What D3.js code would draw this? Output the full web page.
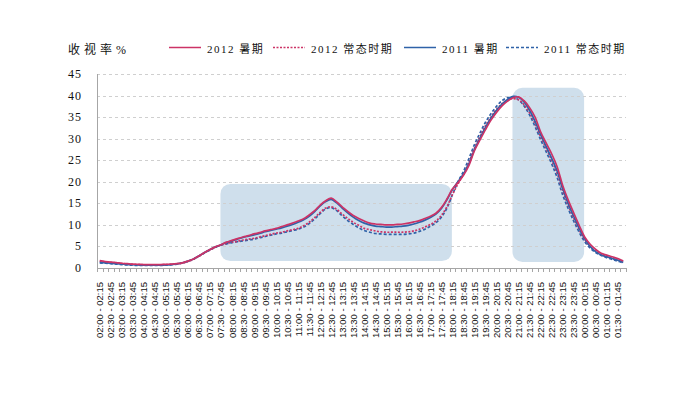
<!DOCTYPE html>
<html lang="zh">
  <head>
    <meta charset='utf-8'>
    <script type="text/javascript" src="https://cdn.jsdelivr.net/npm/d3@7"></script>
    <title>收视率</title>
    <style>
      body { margin: 0; background: white; }
    </style>
  </head>
  <body>
    <div id="chart"></div>
    <script type="text/javascript">
      //Categories: quarter hours from 02:00 to 01:45 next day
      var categories = [];
      for (var k = 0; k < 96; k++) {
        var a = (120 + k * 15) % 1440, b = (a + 15) % 1440;
        var f = function(m){ return d3.format("02")(Math.floor(m / 60)) + ":" + d3.format("02")(m % 60); };
        categories.push(f(a) + " - " + f(b));
      }
      var yTicks = [0, 5, 10, 15, 20, 25, 30, 35, 40, 45];
      var seriesNames = ["2012 暑期", "2012 常态时期", "2011 暑期", "2011 常态时期"];

      //2012 summer
      var summer2012 = [1.7,1.5,1.35,1.25,1.1,1.0,0.9,0.85,0.8,0.8,0.8,0.8,
        0.85,0.9,1.0,1.2,1.6,2.1,2.8,3.6,4.3,4.9,5.4,6.0,
        6.4,6.8,7.2,7.5,7.9,8.2,8.6,8.9,9.2,9.6,10.0,10.4,
        10.9,11.4,12.3,13.3,14.6,15.6,16.2,15.3,14.2,13.1,12.2,11.5,
        10.9,10.4,10.2,10.1,10.0,10.0,10.1,10.2,10.4,10.7,11.0,11.5,
        12.0,12.7,14.0,16.0,18.3,19.8,21.5,23.8,27.2,29.7,32.1,34.3,
        36.1,37.6,38.7,39.5,39.7,38.8,37.2,35.0,31.6,29.0,26.5,23.5,
        19.2,15.8,12.8,9.9,7.2,5.5,4.3,3.4,3.0,2.6,2.2,1.6];
      //2012 normal period
      var normal2012 = [1.6,1.4,1.3,1.2,1.05,0.95,0.85,0.8,0.75,0.75,0.75,0.75,
        0.8,0.85,0.95,1.15,1.5,2.0,2.7,3.5,4.2,4.8,5.3,5.7,
        6.0,6.2,6.5,6.7,6.9,7.2,7.5,7.8,8.1,8.3,8.6,8.9,
        9.2,9.8,10.6,11.7,12.9,13.9,14.2,13.6,12.5,11.5,10.6,9.9,
        9.2,8.9,8.6,8.4,8.3,8.3,8.3,8.3,8.4,8.6,9.0,9.5,
        10.1,10.9,12.2,14.2,17.0,19.5,21.6,24.5,27.8,30.5,33.0,35.0,
        36.8,38.1,39.0,39.3,39.0,37.9,36.0,33.5,30.5,27.8,25.0,22.0,
        18.0,14.6,11.6,8.9,6.6,5.0,3.9,3.1,2.6,2.2,1.8,1.4];
      //2011 summer
      var summer2011 = [1.3,1.2,1.1,1.0,0.9,0.8,0.75,0.7,0.65,0.65,0.65,0.65,
        0.7,0.8,0.95,1.2,1.6,2.1,2.8,3.6,4.3,4.9,5.4,5.9,
        6.3,6.7,7.1,7.4,7.7,8.0,8.4,8.7,9.0,9.3,9.7,10.1,
        10.6,11.2,12.0,13.1,14.4,15.4,15.9,15.1,13.9,12.8,11.8,11.0,
        10.4,10.0,9.7,9.6,9.5,9.5,9.6,9.7,9.9,10.2,10.6,11.1,
        11.7,12.5,13.8,15.8,18.2,20.0,21.8,24.2,27.5,30.1,32.6,34.8,
        36.6,38.0,39.1,39.8,39.6,38.5,36.6,34.0,31.0,28.2,25.5,22.5,
        18.5,15.0,12.0,9.2,6.8,5.0,3.8,3.0,2.6,2.2,1.8,1.3];
      //2011 normal period
      var normal2011 = [1.2,1.1,1.0,0.9,0.8,0.7,0.65,0.6,0.6,0.6,0.6,0.6,
        0.65,0.75,0.9,1.15,1.55,2.05,2.75,3.5,4.2,4.8,5.3,5.6,
        5.9,6.1,6.3,6.5,6.7,7.0,7.3,7.6,7.9,8.1,8.4,8.7,
        9.0,9.5,10.3,11.4,12.6,13.7,14.0,13.3,12.1,11.0,10.1,9.3,
        8.7,8.3,8.0,7.9,7.8,7.8,7.8,7.8,7.9,8.1,8.5,9.0,
        9.7,10.5,11.8,13.9,17.0,20.0,22.4,25.4,28.6,31.3,33.8,35.8,
        37.5,38.8,39.5,39.6,39.0,37.6,35.5,32.8,29.8,27.0,24.2,21.0,
        17.0,13.8,10.9,8.3,6.1,4.6,3.6,2.9,2.4,2.0,1.6,1.2];

      //Highlighted periods: first and last category, top value
      var bandFrom = ["07:30 - 07:45", "20:45 - 21:00"];
      var bandTo = ["17:45 - 18:00", "23:45 - 00:00"];
      var bandTop = [19.5, 41.8];
      var bandBottom = [1.6, 1.4];

      var w = 700, h = 398;
      var plotL = 97, plotR = 626, plotT = 74, plotB = 268;
      var pink = "#cc3366", blue = "#2f62a8";
      var numFont = "'Liberation Serif', 'Noto Sans CJK SC', serif";

      var svg = d3.select("#chart").append("svg")
        .attr("width", w).attr("height", h);

      var x = d3.scaleBand().domain(categories).range([plotL, plotR]);
      var y = d3.scaleLinear().domain([0, 45]).range([plotB, plotT]);

      //Shaded periods
      svg.selectAll(".band")
        .data(bandFrom)
        .enter().append("rect")
        .attr("class", "band")
        .attr("x", function(d){ return x(d) + x.bandwidth() * 0.4; })
        .attr("width", function(d, i){ return x(bandTo[i]) + x.bandwidth() * 1.4 - x(d) - x.bandwidth() * 0.4; })
        .attr("y", function(d, i){ return y(bandTop[i]); })
        .attr("height", function(d, i){ return y(bandBottom[i]) - y(bandTop[i]); })
        .attr("rx", 10).attr("ry", 10)
        .attr("fill", "#cfdfec");

      //Gridlines
      svg.selectAll(".grid")
        .data(yTicks.slice(1))
        .enter().append("line")
        .attr("x1", plotL).attr("x2", plotR)
        .attr("y1", function(d){ return Math.round(y(d)) + 0.5; })
        .attr("y2", function(d){ return Math.round(y(d)) + 0.5; })
        .attr("stroke", "#cfcfcf")
        .attr("stroke-dasharray", "3,3");

      //Axes lines
      svg.append("line")
        .attr("x1", plotL + 0.5).attr("x2", plotL + 0.5)
        .attr("y1", plotT).attr("y2", plotB)
        .attr("stroke", "#a6a6a6");
      svg.append("line")
        .attr("x1", plotL).attr("x2", plotR)
        .attr("y1", plotB + 0.5).attr("y2", plotB + 0.5)
        .attr("stroke", "#a6a6a6");

      //X ticks at category edges
      svg.selectAll(".xtick")
        .data(categories.concat(["end"]))
        .enter().append("line")
        .attr("x1", function(d, i){ return Math.round(plotL + i * x.bandwidth()) + 0.5; })
        .attr("x2", function(d, i){ return Math.round(plotL + i * x.bandwidth()) + 0.5; })
        .attr("y1", plotB).attr("y2", plotB + 4)
        .attr("stroke", "#a6a6a6");

      //Y labels
      svg.selectAll(".ylab")
        .data(yTicks)
        .enter().append("text")
        .attr("x", 82)
        .attr("y", function(d){ return y(d) + 4; })
        .attr("text-anchor", "end")
        .attr("style", "font-size:12px; letter-spacing:1px; font-family:" + numFont)
        .attr("fill", "#111")
        .text(function(d){ return d; });

      //X labels, every other category
      svg.selectAll(".xlab")
        .data(categories.filter(function(d, i){ return i % 2 == 0; }))
        .enter().append("text")
        .attr("transform", function(d){ return "translate(" + (x(d) + x.bandwidth() / 2 + 3.5) + "," + 282 + ") rotate(-90)"; })
        .attr("text-anchor", "end")
        .attr("style", "font-size:9.5px; font-family:'Liberation Sans', Arial, sans-serif")
        .attr("fill", "#111")
        .text(function(d){ return d; });

      //Lines
      var line = d3.line()
        .x(function(d, i){ return x(categories[i]) + x.bandwidth() / 2; })
        .y(function(d){ return y(d); })
        .curve(d3.curveCatmullRom.alpha(0.5));

      var series = [
        {values: normal2011, color: blue, dash: "3,2"},
        {values: normal2012, color: pink, dash: "2,1.5"},
        {values: summer2011, color: blue, dash: null},
        {values: summer2012, color: pink, dash: null}
      ];
      series.forEach(function(s){
        svg.append("path")
          .attr("d", line(s.values))
          .attr("fill", "none")
          .attr("stroke", s.color)
          .attr("stroke-width", 1.7)
          .attr("stroke-dasharray", s.dash);
      });

      //Title / unit
      svg.append("text")
        .attr("x", 68).attr("y", 54)
        .attr("style", "font-size:12px; letter-spacing:4px; font-family:" + numFont)
        .attr("fill", "#111")
        .text("收视率%");

      //Legend
      var legendX = [169, 273, 404, 506];
      var legendStyle = [
        {color: pink, dash: null}, {color: pink, dash: "2,1.5"},
        {color: blue, dash: null}, {color: blue, dash: "3,2"}
      ];
      seriesNames.forEach(function(name, i){
        svg.append("line")
          .attr("x1", legendX[i]).attr("x2", legendX[i] + 32)
          .attr("y1", 47.5).attr("y2", 47.5)
          .attr("stroke", legendStyle[i].color)
          .attr("stroke-width", 1.5)
          .attr("stroke-dasharray", legendStyle[i].dash);
        svg.append("text")
          .attr("x", legendX[i] + 38).attr("y", 53)
          .attr("style", "font-size:11px; letter-spacing:1.5px; font-family:" + numFont)
          .attr("fill", "#111")
          .text(name);
      });
    </script>
  </body>
</html>
